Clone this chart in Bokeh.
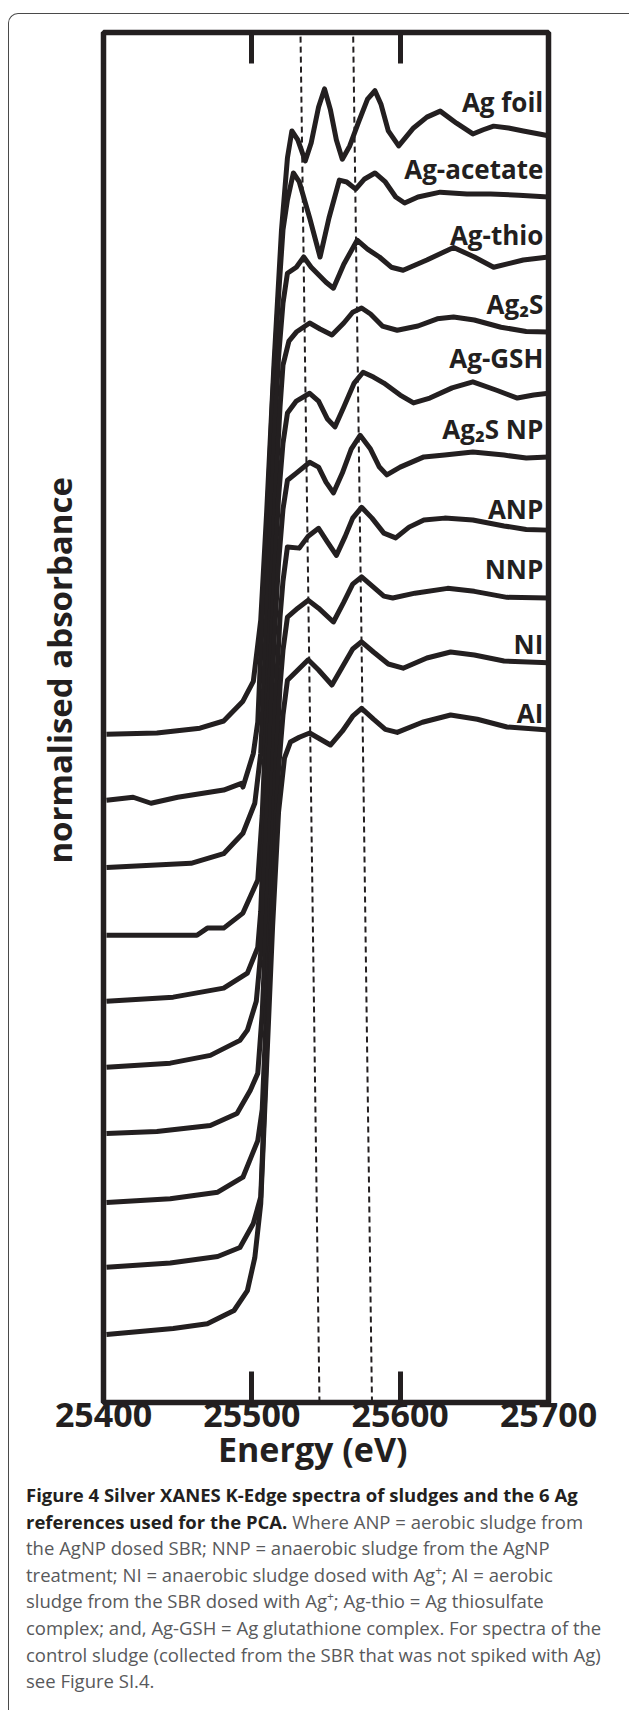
from bokeh.plotting import figure
from bokeh.models import Range1d, LinearAxis, FixedTicker, Div
from bokeh.layouts import column
from bokeh.core.properties import value
from bokeh.embed import file_html
from bokeh.resources import INLINE

# ---------------- data (energy in eV, normalised absorbance) ----------------
foil_e = [25402, 25436, 25465, 25481, 25494, 25501, 25506, 25510, 25515, 25520, 25524,
          25527, 25531, 25536, 25540, 25545, 25549, 25553, 25557, 25561, 25566, 25572,
          25578, 25583, 25587, 25592, 25599, 25609, 25618, 25627, 25638, 25649, 25656,
          25663, 25673, 25683, 25700]
foil_mu = [0.0, 0.002, 0.01, 0.022, 0.055, 0.088, 0.19, 0.37, 0.62, 0.84, 0.96,
           1.005, 0.99, 0.955, 0.985, 1.045, 1.075, 1.04, 0.99, 0.958, 0.98, 1.02,
           1.058, 1.072, 1.05, 1.005, 0.98, 1.01, 1.028, 1.038, 1.018, 1.0, 1.007,
           1.013, 1.01, 1.005, 0.997]

acetate_e = [25402, 25420, 25432, 25450, 25481, 25493, 25494, 25501, 25504, 25507, 25510,
             25514, 25518, 25521, 25524, 25528, 25532, 25539, 25546, 25552, 25559, 25564,
             25570, 25576, 25583, 25590, 25597, 25603, 25612, 25627, 25645, 25661, 25680, 25700]
acetate_mu = [0.0, 0.005, -0.005, 0.005, 0.017, 0.028, 0.022, 0.078, 0.13, 0.3, 0.45,
              0.67, 0.84, 0.95, 1.0, 1.045, 1.03, 0.97, 0.905, 0.97, 1.033, 1.03,
              1.018, 1.035, 1.045, 1.03, 1.005, 0.995, 1.005, 1.013, 1.01, 1.01, 1.008, 1.005]

thio_e = [25402, 25459, 25481, 25494, 25502, 25506, 25509, 25512, 25515, 25518, 25521,
          25524, 25530, 25535, 25540, 25544, 25550, 25555, 25562, 25571, 25578, 25586,
          25594, 25602, 25618, 25636, 25650, 25663, 25683, 25700]
thio_mu = [0.0, 0.007, 0.023, 0.057, 0.107, 0.19, 0.36, 0.54, 0.71, 0.85, 0.94,
           0.99, 1.0, 1.017, 1.0, 0.99, 0.975, 0.965, 1.005, 1.045, 1.03, 1.017,
           1.0, 0.995, 1.012, 1.033, 1.017, 1.0, 1.012, 1.017]

ag2s_e = [25402, 25463, 25470, 25481, 25494, 25504, 25507, 25510, 25513, 25516, 25519,
          25521, 25525, 25530, 25539, 25546, 25554, 25562, 25568, 25574, 25580, 25588,
          25598, 25612, 25625, 25636, 25650, 25668, 25685, 25700]
ag2s_mu = [0.0, 0.0, 0.012, 0.012, 0.037, 0.092, 0.2, 0.38, 0.57, 0.74, 0.88,
           0.95, 0.99, 1.005, 1.02, 1.01, 1.0, 1.02, 1.038, 1.045, 1.035, 1.015,
           1.008, 1.015, 1.027, 1.03, 1.025, 1.013, 1.006, 1.005]

gsh_e = [25402, 25447, 25481, 25497, 25504, 25506, 25509, 25512, 25515, 25518, 25521,
         25524, 25530, 25539, 25545, 25551, 25556, 25562, 25569, 25575, 25582, 25589,
         25600, 25609, 25620, 25635, 25649, 25665, 25679, 25690, 25700]
gsh_mu = [0.0, 0.007, 0.022, 0.047, 0.09, 0.15, 0.33, 0.52, 0.7, 0.84, 0.93,
          0.98, 1.0, 1.013, 1.0, 0.97, 0.957, 0.99, 1.03, 1.048, 1.04, 1.03,
          1.01, 0.997, 1.005, 1.022, 1.032, 1.018, 1.005, 1.01, 1.013]

ag2snp_e = [25402, 25445, 25472, 25492, 25497, 25503, 25506, 25509, 25512, 25515, 25518,
            25521, 25524, 25530, 25539, 25545, 25550, 25555, 25561, 25567, 25573, 25580,
            25586, 25591, 25600, 25616, 25630, 25649, 25670, 25685, 25700]
ag2snp_mu = [0.0, 0.007, 0.02, 0.045, 0.062, 0.11, 0.19, 0.36, 0.54, 0.71, 0.84,
             0.93, 0.978, 0.99, 1.008, 1.0, 0.975, 0.957, 0.99, 1.03, 1.053, 1.03,
             1.0, 0.987, 1.0, 1.017, 1.02, 1.025, 1.02, 1.015, 1.017]

anp_e = [25402, 25436, 25472, 25490, 25499, 25504, 25507, 25510, 25513, 25516, 25519,
         25521, 25524, 25532, 25538, 25545, 25551, 25557, 25563, 25568, 25574, 25581,
         25589, 25597, 25606, 25616, 25630, 25649, 25670, 25685, 25700]
anp_mu = [0.0, 0.003, 0.013, 0.033, 0.072, 0.1, 0.2, 0.37, 0.55, 0.72, 0.86,
          0.92, 0.977, 0.975, 0.995, 1.008, 0.985, 0.963, 0.995, 1.025, 1.043, 1.025,
          1.0, 0.992, 1.01, 1.022, 1.025, 1.022, 1.012, 1.006, 1.005]

nnp_e = [25402, 25445, 25477, 25494, 25504, 25507, 25510, 25513, 25516, 25519, 25521,
         25524, 25531, 25538, 25545, 25555, 25562, 25568, 25574, 25582, 25589, 25595,
         25610, 25632, 25650, 25672, 25700]
nnp_mu = [0.0, 0.006, 0.017, 0.042, 0.103, 0.155, 0.33, 0.54, 0.72, 0.86, 0.92,
          0.975, 0.99, 1.003, 0.99, 0.967, 1.0, 1.03, 1.042, 1.025, 1.01, 1.007,
          1.015, 1.023, 1.018, 1.008, 1.007]

ni_e = [25402, 25445, 25477, 25492, 25501, 25506, 25509, 25512, 25515, 25518, 25521,
        25524, 25531, 25538, 25545, 25554, 25561, 25568, 25574, 25582, 25592, 25602,
        25618, 25634, 25650, 25670, 25700]
ni_mu = [0.0, 0.007, 0.018, 0.033, 0.073, 0.117, 0.3, 0.5, 0.68, 0.83, 0.92,
         0.978, 0.995, 1.012, 0.995, 0.97, 1.0, 1.03, 1.042, 1.025, 1.005, 0.998,
         1.015, 1.025, 1.02, 1.01, 1.007]

ai_e = [25402, 25447, 25470, 25488, 25497, 25502, 25506, 25510, 25514, 25518, 25522,
        25526, 25532, 25539, 25546, 25553, 25561, 25568, 25574, 25582, 25590, 25598,
        25615, 25634, 25652, 25672, 25700]
ai_mu = [0.0, 0.01, 0.018, 0.04, 0.073, 0.128, 0.218, 0.45, 0.68, 0.87, 0.96,
         0.987, 0.995, 1.002, 0.992, 0.982, 1.005, 1.03, 1.043, 1.025, 1.008, 1.003,
         1.02, 1.032, 1.025, 1.012, 1.007]

names = ["Ag foil", "Ag-acetate", "Ag-thio", "Ag\u2082S", "Ag-GSH", "Ag\u2082S NP",
         "ANP", "NNP", "NI", "AI"]
offsets = [1.0, 0.89, 0.778, 0.665, 0.555, 0.445, 0.335, 0.22, 0.112, 0.0]
label_y = [2.054, 1.942, 1.832, 1.716, 1.626, 1.509, 1.376, 1.276, 1.151, 1.036]
label_x = 25696.5

# energies marked by the dashed guide lines (bottom / top of the frame)
guide_e_bottom = [25545.6, 25581.0]
guide_e_top = [25532.8, 25568.3]

tick_values = [25400, 25500, 25600, 25700]
tick_labels = ["25400", "25500", "25600", "25700"]

x_title = "Energy (eV)"
y_title = "normalised absorbance"

caption_bold = ["Figure 4 Silver XANES K-Edge spectra of sludges and the 6 Ag",
                "references used for the PCA."]
caption_rest_2 = "Where ANP = aerobic sludge from"
caption_lines = [
    "the AgNP dosed SBR; NNP = anaerobic sludge from the AgNP",
    "treatment; NI = anaerobic sludge dosed with Ag<sup>+</sup>; AI = aerobic",
    "sludge from the SBR dosed with Ag<sup>+</sup>; Ag-thio = Ag thiosulfate",
    "complex; and, Ag-GSH = Ag glutathione complex. For spectra of the",
    "control sludge (collected from the SBR that was not spiked with Ag)",
    "see Figure SI.4.",
]

curves_e = [foil_e, acetate_e, thio_e, ag2s_e, gsh_e, ag2snp_e, anp_e, nnp_e, ni_e, ai_e]
curves_mu = [foil_mu, acetate_mu, thio_mu, ag2s_mu, gsh_mu, ag2snp_mu, anp_mu, nnp_mu, ni_mu, ai_mu]

# ---------------- figure ----------------
INK = "#231f20"
FONT = "Open Sans"
Y0, Y1 = -0.1133, 2.169
NB = "\u00a0"

p = figure(width=626, height=1482, output_backend="svg", toolbar_location=None,
           x_range=Range1d(25400, 25700), y_range=Range1d(Y0, Y1),
           x_axis_location=None, y_axis_location=None,
           min_border_left=103, min_border_right=78, min_border_top=32, min_border_bottom=80)
p.grid.grid_line_color = None
p.background_fill_color = "white"
p.border_fill_color = "white"
p.outline_line_color = INK
p.outline_line_width = 5.5

ticker = FixedTicker(ticks=tick_values)
bottom_axis = LinearAxis(ticker=ticker,
                         major_label_overrides={v: s for v, s in zip(tick_values, tick_labels)},
                         axis_line_color=None, major_tick_in=31, major_tick_out=0,
                         major_tick_line_width=5, major_tick_line_color=INK,
                         minor_tick_line_color=None,
                         major_label_text_font=FONT, major_label_text_font_size="34px",
                         major_label_text_font_style="bold",
                         major_label_text_color=INK, major_label_standoff=0,
                         axis_label=x_title + NB * 3, axis_label_standoff=-4,
                         axis_label_text_font=FONT, axis_label_text_font_size="34px",
                         axis_label_text_font_style="bold", axis_label_text_color=INK)
p.add_layout(bottom_axis, "below")

top_axis = LinearAxis(ticker=ticker, axis_line_color=None, major_tick_in=31, major_tick_out=0,
                      major_tick_line_width=5, major_tick_line_color=INK,
                      minor_tick_line_color=None, major_label_text_font_size="1px",
                      major_label_text_alpha=0, major_label_standoff=0)
p.add_layout(top_axis, "above")

left_axis = LinearAxis(ticker=FixedTicker(ticks=[]), axis_line_color=None,
                       major_tick_line_color=None, minor_tick_line_color=None,
                       major_label_standoff=0,
                       axis_label=NB * 11 + y_title, axis_label_standoff=22,
                       axis_label_text_font=FONT, axis_label_text_font_size="33px",
                       axis_label_text_font_style="bold", axis_label_text_color=INK)
p.add_layout(left_axis, "left")

# dashed guides
p.segment(x0=guide_e_bottom, y0=[Y0, Y0], x1=guide_e_top, y1=[Y1, Y1],
          line_color=INK, line_width=2, line_dash="6 4")

for e, mu, off in zip(curves_e, curves_mu, offsets):
    p.line(e, [m + off for m in mu], line_color=INK, line_width=5, line_join="round")

p.text(x=[label_x] * len(names), y=label_y, text=names, text_align="right",
       text_baseline="alphabetic", text_font=value(FONT), text_font_size=value("26px"),
       text_font_style="bold", text_color=INK)

# ---------------- caption ----------------
border_html = ('<div style="position:fixed;left:8px;top:13px;width:720px;height:1900px;'
               'border-style:solid none none solid;border-width:1.3px 0 0 1.3px;'
               'border-color:#4a4a4a;border-top-left-radius:10px;'
               'pointer-events:none;box-sizing:border-box;"></div>')
body = ('<b style="color:%s">%s<br>%s</b> %s<br>' % (INK, caption_bold[0], caption_bold[1], caption_rest_2)
        + "<br>".join(caption_lines))
body = body.replace("<sup>", '<sup style="font-size:0.65em;line-height:0;vertical-align:0.55em">')
cap_html = (border_html +
            '<div style="font-family:\'Open Sans\';font-size:18.5px;line-height:26.6px;'
            'color:#58595b;white-space:nowrap;padding:0 0 0 26px;margin:0;">' + body + '</div>')
cap = Div(text=cap_html, width=626, height=217, styles={"overflow": "hidden", "margin": "0", "padding": "0"})

layout = column(p, cap, spacing=0)
open("out.html", "w").write(file_html(layout, INLINE))
